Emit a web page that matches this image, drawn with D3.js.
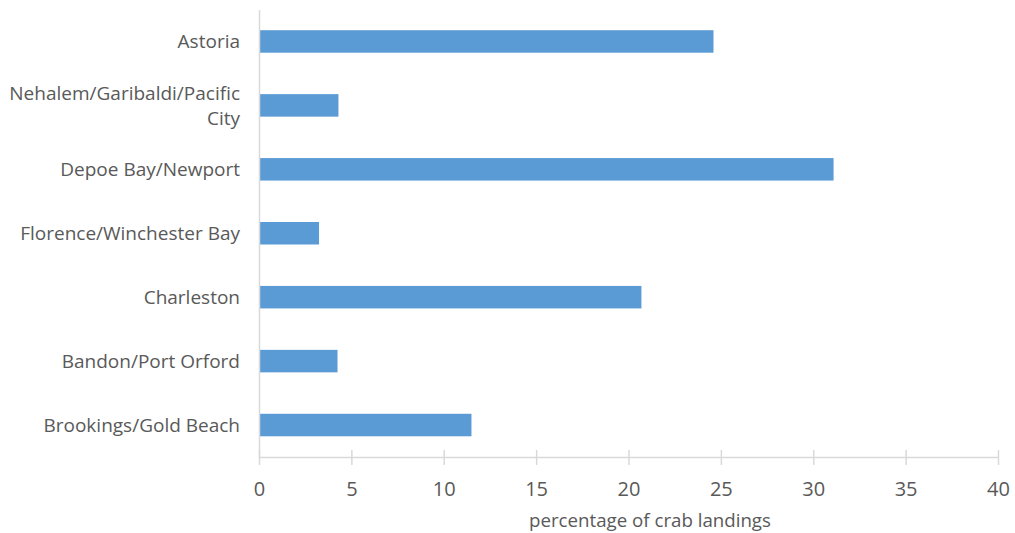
<!DOCTYPE html>
<html>
<head>
<meta charset="utf-8">
<script src="https://cdn.jsdelivr.net/npm/d3@7"></script>
<style>
  html, body { margin: 0; padding: 0; background: #fff; }
  svg { display: block; }
  text { font-family: "Open Sans", Lato, sans-serif; fill: #595959; }
</style>
</head>
<body>
<svg id="chart" width="1015" height="533"></svg>
<script>
const categories = [
  "Astoria",
  "Nehalem/Garibaldi/Pacific City",
  "Depoe Bay/Newport",
  "Florence/Winchester Bay",
  "Charleston",
  "Bandon/Port Orford",
  "Brookings/Gold Beach"
];
const values = [24.6, 4.3, 31.1, 3.25, 20.7, 4.25, 11.5];
const xTicks = [0, 5, 10, 15, 20, 25, 30, 35, 40];
const xTitle = "percentage of crab landings";

const svg = d3.select("#chart");
const x = d3.scaleLinear().domain([0, 40]).range([259, 998]);
const y = d3.scaleBand().domain(categories).range([9.5, 457]).paddingInner(0.648).paddingOuter(0.324);

// bars
svg.append("g").selectAll("rect")
  .data(categories)
  .join("rect")
  .attr("x", x(0))
  .attr("y", d => y(d))
  .attr("width", (d, i) => x(values[i]) - x(0))
  .attr("height", y.bandwidth())
  .attr("fill", "#5b9bd5");

// x axis
const xAxis = d3.axisBottom(x).tickValues(xTicks).tickSize(0).tickPadding(0);
const gx = svg.append("g").attr("transform", "translate(0,457)").call(xAxis);
gx.select(".domain").attr("stroke", "#d9d9d9").attr("stroke-width", 1.5);
gx.selectAll(".tick line").remove();
gx.selectAll(".tick").append("line")
  .attr("y1", -7).attr("y2", 8)
  .attr("stroke", "#d9d9d9").attr("stroke-width", 1.5);
gx.selectAll(".tick text")
  .attr("y", 39)
  .attr("dy", "0")
  .style("font-size", "20px")
  .style("font-family", "'Open Sans', sans-serif")
  .attr("fill", "#595959");

// y axis
const yAxis = d3.axisLeft(y).tickSize(0).tickPadding(19);
const gy = svg.append("g").attr("transform", "translate(259,0)").call(yAxis);
gy.select(".domain").attr("stroke", "#d9d9d9").attr("stroke-width", 1.5);
gy.selectAll(".tick text")
  .style("font-size", "19px")
  .style("font-family", "'Open Sans', sans-serif")
  .attr("fill", "#595959")
  .each(function(d) {
    const t = d3.select(this);
    const words = d.split(" ");
    const maxW = 238;
    t.text(null);
    let lines = [[]];
    const probe = t.append("tspan");
    words.forEach(w => {
      const cur = lines[lines.length - 1];
      probe.text(cur.concat([w]).join(" "));
      if (cur.length && probe.node().getComputedTextLength() > maxW) lines.push([w]);
      else cur.push(w);
    });
    probe.remove();
    const n = lines.length;
    lines.forEach((ln, i) => {
      t.append("tspan")
        .attr("x", -19)
        .attr("y", (i - (n - 1) / 2) * 25)
        .attr("dy", "0.35em")
        .text(ln.join(" "));
    });
  });

// x title
svg.append("text")
  .attr("x", 650)
  .attr("y", 527)
  .attr("text-anchor", "middle")
  .style("font-size", "18.7px")
  .attr("fill", "#595959")
  .text(xTitle);
</script>
</body>
</html>
